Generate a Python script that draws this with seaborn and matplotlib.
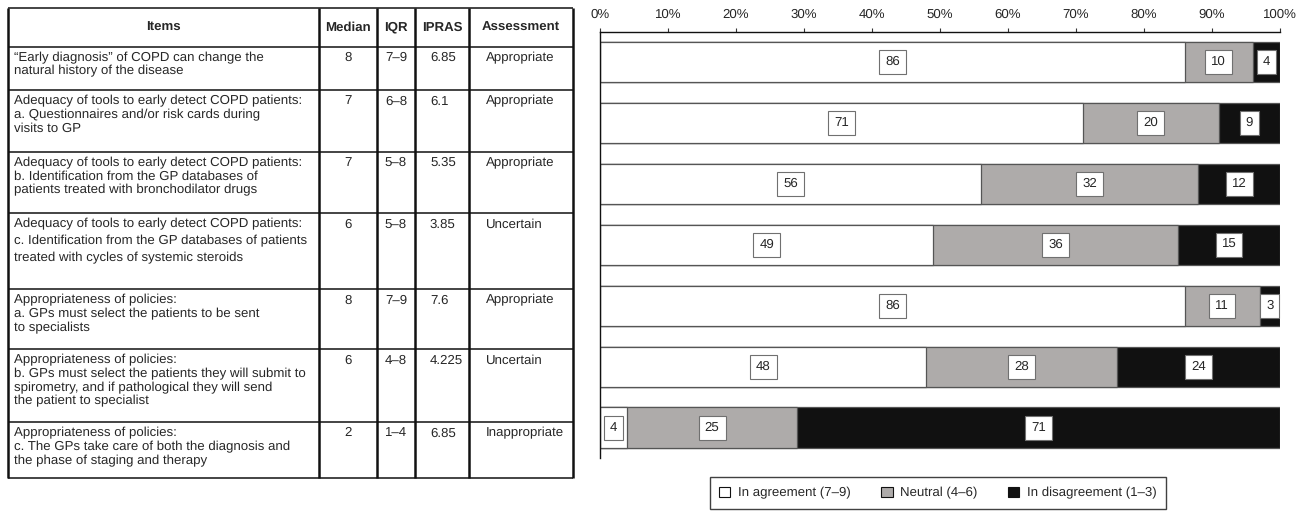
import matplotlib
matplotlib.use("Agg")
import matplotlib.pyplot as plt
import pandas as pd
import seaborn as sns
from matplotlib.patches import Patch

# ---- data -------------------------------------------------------------------
items = [
    "\u201cEarly diagnosis\u201d of COPD can change the\nnatural history of the disease",
    "Adequacy of tools to early detect COPD patients:\na. Questionnaires and/or risk cards during\nvisits to GP",
    "Adequacy of tools to early detect COPD patients:\nb. Identification from the GP databases of\npatients treated with bronchodilator drugs",
    "Adequacy of tools to early detect COPD patients:\nc. Identification from the GP databases of patients\ntreated with cycles of systemic steroids",
    "Appropriateness of policies:\na. GPs must select the patients to be sent\nto specialists",
    "Appropriateness of policies:\nb. GPs must select the patients they will submit to\nspirometry, and if pathological they will send\nthe patient to specialist",
    "Appropriateness of policies:\nc. The GPs take care of both the diagnosis and\nthe phase of staging and therapy",
]
medians = ["8", "7", "7", "6", "8", "6", "2"]
iqrs = ["7\u20139", "6\u20138", "5\u20138", "5\u20138", "7\u20139", "4\u20138", "1\u20134"]
ipras = ["6.85", "6.1", "5.35", "3.85", "7.6", "4.225", "6.85"]
assessments = ["Appropriate", "Appropriate", "Appropriate", "Uncertain",
               "Appropriate", "Uncertain", "Inappropriate"]
headers = ["Items", "Median", "IQR", "IPRAS", "Assessment"]

agree = [86, 71, 56, 49, 86, 48, 4]
neutral = [10, 20, 32, 36, 11, 28, 25]
disagree = [4, 9, 12, 15, 3, 24, 71]
series_names = ["In agreement (7\u20139)", "Neutral (4\u20136)", "In disagreement (1\u20133)"]

# ---- style ------------------------------------------------------------------
W, H = 1301, 512
sns.set_style("white")
plt.rcParams["font.family"] = ["Liberation Sans", "DejaVu Sans"]
plt.rcParams["text.hinting"] = "no_hinting"
FS = 9.5
colors = ["#ffffff", "#aeabaa", "#111111"]
edge = "#555555"

fig = plt.figure(figsize=(W / 100, H / 100), dpi=100)

# ---- table (drawn in pixel coordinates) -------------------------------------
tab = fig.add_axes([0, 0, 1, 1], zorder=0)
tab.set_xlim(0, W)
tab.set_ylim(H, 0)
tab.axis("off")

col_x = [8, 319, 377, 415, 469, 573]
row_y = [8, 46.5, 90, 151.5, 213, 289, 349, 422, 478]

for y in row_y:
    tab.plot([col_x[0], col_x[-1]], [y, y], color="#111111", lw=1.1, solid_capstyle="butt")
for x in col_x:
    tab.plot([x, x], [row_y[0], row_y[-1]], color="#111111", lw=1.8, solid_capstyle="butt")

hy = (row_y[0] + row_y[1]) / 2
for i, h in enumerate(headers):
    tab.text((col_x[i] + col_x[i + 1]) / 2, hy, h, ha="center", va="center",
             fontsize=FS, fontweight="bold")

for r in range(len(items)):
    top = row_y[r + 1] + 5
    ls = 1.5 if r == 3 else 1.17
    tab.text(col_x[0] + 6, top, items[r], ha="left", va="top", fontsize=FS, linespacing=ls)
    tab.text((col_x[1] + col_x[2]) / 2, top, medians[r], ha="center", va="top", fontsize=FS)
    tab.text((col_x[2] + col_x[3]) / 2, top, iqrs[r], ha="center", va="top", fontsize=FS)
    tab.text(col_x[3] + 15, top, ipras[r], ha="left", va="top", fontsize=FS)
    tab.text(col_x[4] + 17, top, assessments[r], ha="left", va="top", fontsize=FS)

# ---- stacked bar chart ------------------------------------------------------
df = pd.DataFrame({"item": [f"Q{i + 1}" for i in range(len(agree))],
                   "agree": agree, "neutral": neutral, "disagree": disagree})
df["c1"] = df["agree"]
df["c2"] = df["agree"] + df["neutral"]
df["c3"] = df["c2"] + df["disagree"]

left, right = 600 / W, 1280 / W
top_px, bot_px = 31.5, 458
ax = fig.add_axes([left, 1 - bot_px / H, right - left, (bot_px - top_px) / H], zorder=1)

for col, c in zip(["c3", "c2", "c1"], colors[::-1]):
    sns.barplot(data=df, y="item", x=col, orient="h", color=c, width=0.66,
                edgecolor=edge, linewidth=0.9, saturation=1, ax=ax)

# boxed value labels centred in each segment
for i, row in df.iterrows():
    starts = [0, row["c1"], row["c2"]]
    for s, v in zip(starts, [row["agree"], row["neutral"], row["disagree"]]):
        ax.text(s + v / 2, i, f"{v}", ha="center", va="center", fontsize=FS, zorder=5,
                bbox=dict(boxstyle="square,pad=0.45", fc="white", ec="#707070", lw=0.8))

n = len(df)
ax.set_xlim(0, 100)
ax.set_ylim(n - 0.5, -0.5)
ax.set_xlabel("")
ax.set_ylabel("")
ax.xaxis.tick_top()
ax.set_xticks(range(0, 101, 10))
ax.set_xticklabels([f"{t}%" for t in range(0, 101, 10)], fontsize=FS)
ax.tick_params(axis="x", direction="out", length=3, width=0.8, pad=5, color="#333333")
ax.set_yticks([])
ax.set_yticks([i - 0.5 for i in range(n + 1)], minor=True)
ax.tick_params(axis="y", which="minor", direction="out", length=4, width=0.8, color="#333333")
ax.tick_params(axis="y", which="major", left=False, labelleft=False)
for side in ["right", "bottom"]:
    ax.spines[side].set_visible(False)
for side in ["top", "left"]:
    ax.spines[side].set_color("#111111")
    ax.spines[side].set_linewidth(1.0)

handles = [Patch(facecolor=c, edgecolor="#111111", linewidth=0.8) for c in colors]
fig.legend(handles, series_names, loc="center", bbox_to_anchor=(938 / W, 1 - 493 / H),
           ncol=3, fontsize=FS, frameon=True, fancybox=False, edgecolor="#111111",
           handlelength=0.85, handleheight=0.85, handletextpad=0.6, columnspacing=2.3,
           borderpad=0.7).get_frame().set_linewidth(1.0)

fig.savefig("out.png", dpi=100, facecolor="white")
